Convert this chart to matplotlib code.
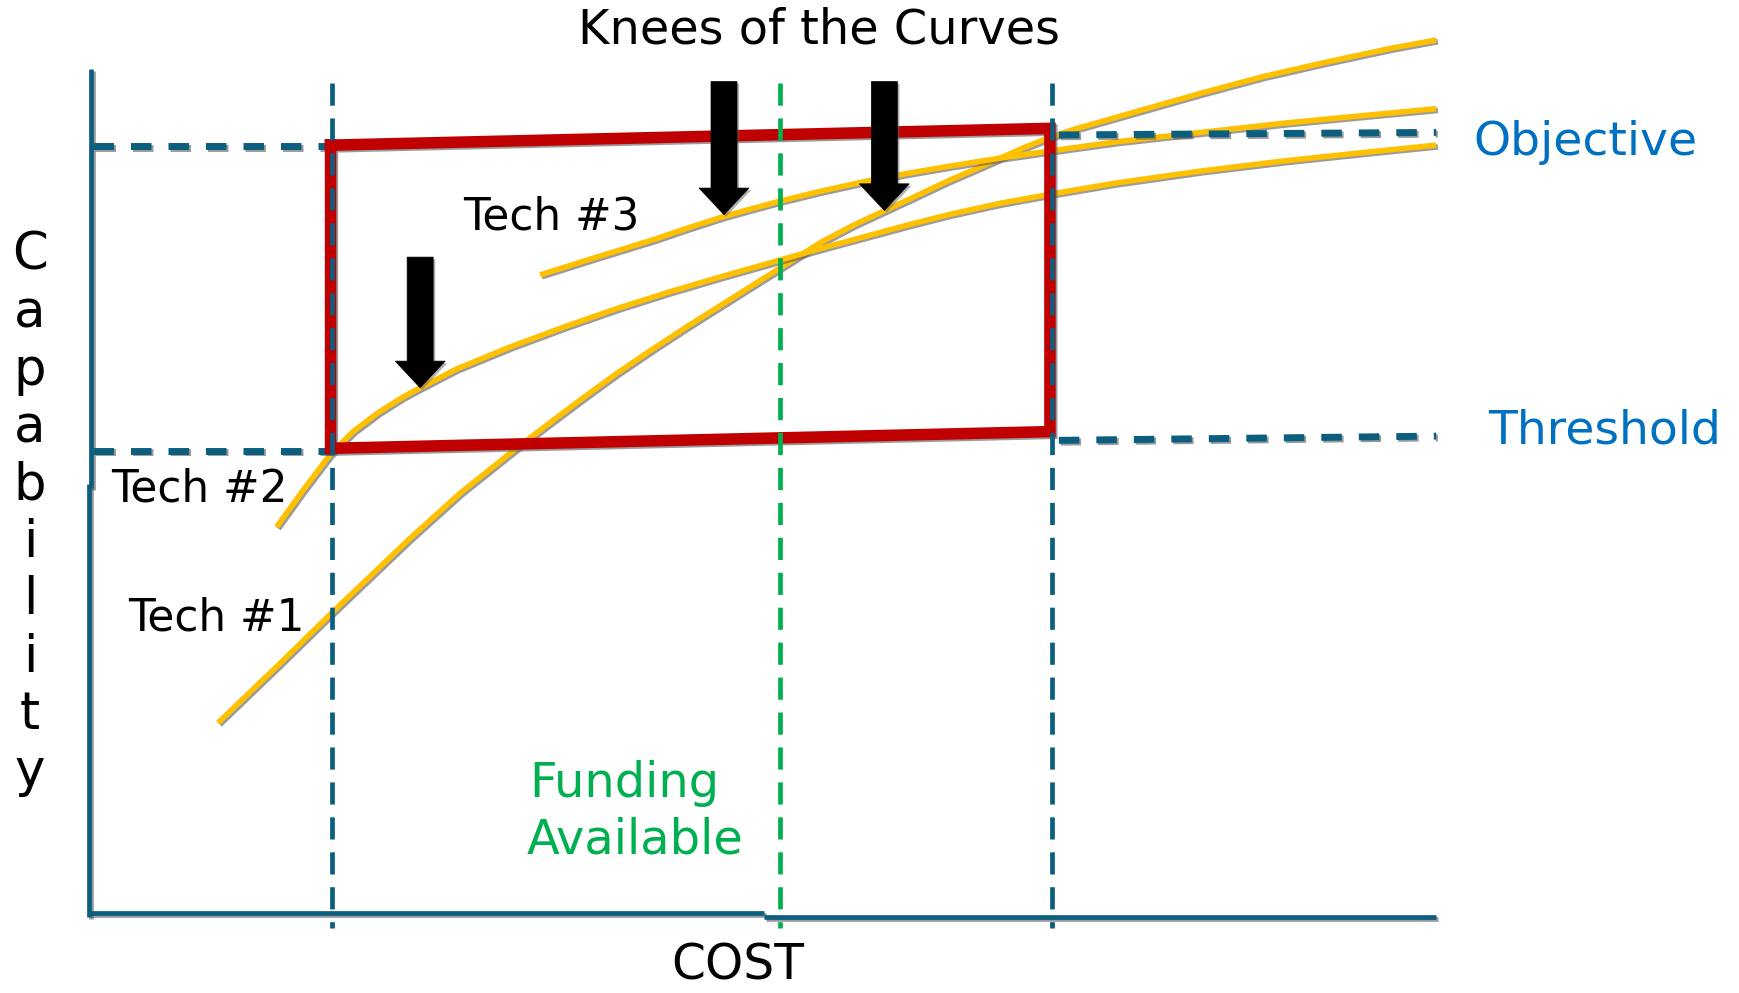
import numpy as np
import matplotlib.pyplot as plt
import matplotlib.patheffects as pe

# capability vs cost for the three technologies
tech1_cost = [9.6, 14.0, 18.0, 23.85, 27.56, 31.27, 34.0, 36.6, 39.2, 41.9, 44.5, 47.2, 49.8, 51.3,
              52.6, 54.4, 56.8, 59.1, 61.4, 63.8, 65.7, 67.55, 69.4, 71.3, 73.2, 76.3, 79.4, 82.5,
              87.2, 91.9, 96.6, 100.0]
tech1_cap = [22.9, 29.6, 35.8, 44.65, 49.96, 54.67, 58.0, 61.1, 64.1, 67.0, 69.7, 72.4, 75.0, 76.5,
             77.8, 79.6, 81.6, 83.3, 85.0, 86.8, 88.1, 89.4, 90.7, 91.9, 92.9, 94.3, 95.7, 97.1,
             99.1, 100.8, 102.4, 103.4]

tech2_cost = [13.95, 15.93, 17.91, 19.61, 21.46, 23.32, 24.64, 27.29, 31.27, 35.25, 39.22, 43.2,
              47.17, 51.3, 54.3, 57.56, 60.7, 63.8, 67.5, 71.3, 76.3, 82.54, 88.78, 95.03, 100.0]
tech2_cap = [46.0, 50.35, 54.5, 57.22, 59.44, 61.3, 62.42, 64.6, 67.2, 69.55, 71.75, 73.75,
             75.6, 77.45, 78.8, 80.2, 81.55, 82.8, 84.1, 85.2, 86.55, 87.95, 89.15, 90.2, 91.0]

tech3_cost = [33.5, 37.7, 41.9, 44.5, 47.15, 49.2, 51.3, 54.4, 57.56, 60.7, 63.8, 67.55, 71.3,
              76.3, 82.54, 88.78, 95.03, 100.0]
tech3_cap = [75.7, 77.8, 79.85, 81.25, 82.6, 83.5, 84.4, 85.6, 86.7, 87.65, 88.5, 89.45, 90.3,
             91.4, 92.5, 93.6, 94.55, 95.3]

# knees of the curves (arrow tips) and where each arrow starts
knee_cost = [24.6, 47.15, 59.05]
knee_cap = [62.4, 82.8, 83.3]
arrow_top = [77.8, 98.5, 98.5]

# requirement levels (left of the trade box / right of it)
objective_left, threshold_left = 90.9, 55.0
objective_right = [92.2, 92.5]
threshold_right = [56.2, 56.7]

# cost markers: minimum cost, funding available, maximum cost
cost_min, funding, cost_max = 18.03, 51.28, 71.46

# trade space box corners
box_cost = [17.95, 71.34, 71.34, 17.95, 17.95]
box_cap = [91.0, 92.98, 57.23, 55.26, 91.0]

teal = '#0B5E7E'
gold = '#FFC000'
red = '#C00000'
green = '#00B050'
blue = '#0070C0'

plt.rcParams['font.family'] = ['DejaVu Sans']

fig = plt.figure(figsize=(17.39, 9.93), dpi=100)
ax = fig.add_axes([0, 0, 1, 1])
ax.set_xlim(-6.583, 122.48)
ax.set_ylim(-8.947, 108.11)
ax.axis('off')

shadow = [pe.SimpleLineShadow(offset=(1.3, -1.3), shadow_color='0.35', alpha=0.6), pe.Normal()]

# axes drawn as plain lines
ax.plot([0.2, 0.2], [50.6, 100], color=teal, lw=3.4, solid_capstyle='butt', path_effects=shadow)
ax.plot([0, 0], [0, 51.0], color=teal, lw=3.4, solid_capstyle='butt', path_effects=shadow)
ax.plot([0, 50.1], [0.44, 0.44], color=teal, lw=3.4, solid_capstyle='butt', path_effects=shadow)
ax.plot([50.1, 100], [0, 0], color=teal, lw=3.4, solid_capstyle='butt', path_effects=shadow)

# technology curves
for c, v in [(tech1_cost, tech1_cap), (tech2_cost, tech2_cap), (tech3_cost, tech3_cap)]:
    ax.plot(c, v, color=gold, lw=4.0, solid_capstyle='butt', solid_joinstyle='round',
            path_effects=shadow, zorder=3)

# objective / threshold levels
hdash = dict(color=teal, lw=5, linestyle=(0, (2.95, 2.45)), dash_capstyle='butt',
             path_effects=shadow, zorder=4)
ax.plot([0.3, cost_min], [objective_left, objective_left], **hdash)
ax.plot([0.3, cost_min], [threshold_left, threshold_left], **hdash)
ax.plot([72.0, 100], objective_right, **hdash)
ax.plot([72.0, 100], threshold_right, **hdash)

# trade space
ax.plot(box_cost, box_cap, color=red, lw=8.3, solid_joinstyle='miter',
        solid_capstyle='projecting', path_effects=shadow, zorder=5)

# vertical cost markers
vdash = dict(lw=3.4, linestyle=(0, (4.7, 2.7)), dash_capstyle='butt', zorder=6, clip_on=False)
ax.plot([cost_min, cost_min], [98.3, -1.3], color=teal, **vdash)
ax.plot([cost_max, cost_max], [98.3, -1.3], color=teal, **vdash)
ax.plot([funding, funding], [98.3, -1.3], color=green, **vdash)

# knee arrows
for x, tip, top in zip(knee_cost, knee_cap, arrow_top):
    ax.arrow(x, top, 0, tip - top, width=1.93, head_width=3.71, head_length=3.14,
             length_includes_head=True, fc='black', ec='black', lw=0.5, zorder=7,
             path_effects=[pe.SimplePatchShadow(offset=(1.5, -1.5), shadow_rgbFace='0.4', alpha=0.5),
                           pe.Normal()])

# labels
ax.text(54.2, 103.0, 'Knees of the Curves', fontsize=34.5, ha='center', va='baseline')
ax.text(102.77, 89.83, 'Objective', fontsize=34, color=blue, va='baseline')
ax.text(103.83, 55.85, 'Threshold', fontsize=34, color=blue, va='baseline')
ax.text(27.8, 81.0, 'Tech #3', fontsize=31.5, va='baseline', zorder=8)
ax.text(1.7, 48.97, 'Tech #2', fontsize=31.5, va='baseline')
ax.text(2.94, 33.84, 'Tech #1', fontsize=31.5, va='baseline')
ax.text(32.7, 14.2, 'Funding', fontsize=34.5, color=green, va='baseline')
ax.text(32.5, 7.5, 'Available', fontsize=34.5, color=green, va='baseline')
ax.text(48.15, -7.3, 'COST', fontsize=35, ha='center', va='baseline')

for ch, y in zip('Capability', np.linspace(76.3, 15.4, 10)):
    ax.text(-4.36, y, ch, fontsize=37, ha='center', va='baseline')

fig.savefig('out.png', dpi=100)
